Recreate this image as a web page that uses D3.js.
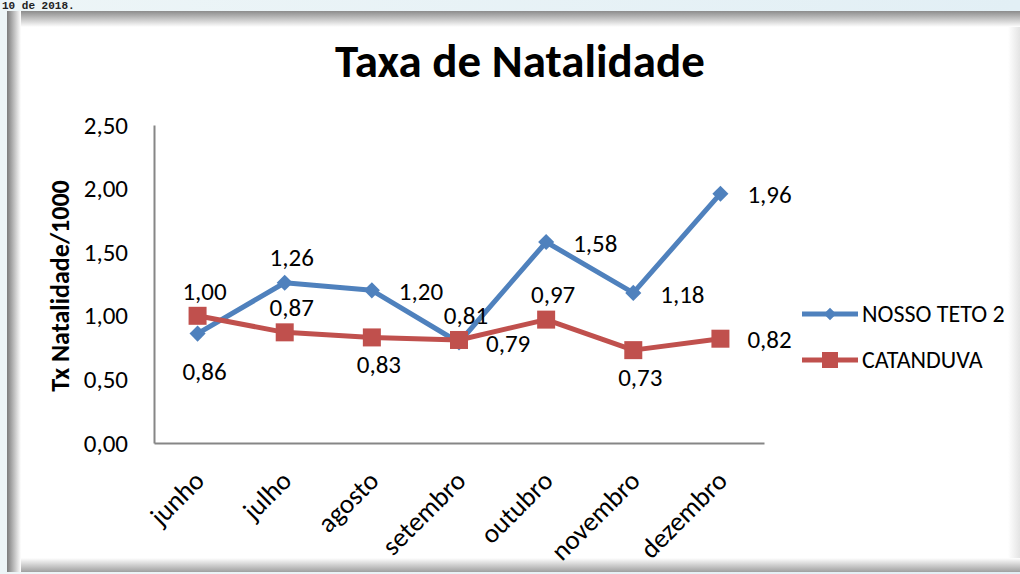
<!DOCTYPE html>
<html>
<head>
<meta charset="utf-8">
<script src="https://cdn.jsdelivr.net/npm/d3@7"></script>
<style>
  body { margin: 0; background: #e4f1f5; }
  svg { display: block; }
</style>
</head>
<body>
<div class="chart"></div>
<script>
var w = 1020;
var h = 574;

// Chart data
var months = ["junho", "julho", "agosto", "setembro", "outubro", "novembro", "dezembro"];
var nossoTeto = [0.86, 1.26, 1.20, 0.79, 1.58, 1.18, 1.96];
var catanduva = [1.00, 0.87, 0.83, 0.81, 0.97, 0.73, 0.82];
var yTicks = [0, 0.5, 1, 1.5, 2, 2.5];
// where each data label sits relative to its point: t = above, b = below, B = further below, r = right
var nossoLabelPos = ["B", "t", "r", "r", "r", "r", "r"];
var catanduvaLabelPos = ["t", "t", "b", "t", "t", "b", "r"];

var series = [
    { name: "NOSSO TETO 2", values: nossoTeto, pos: nossoLabelPos, color: "#4f81bd", marker: "diamond" },
    { name: "CATANDUVA", values: catanduva, pos: catanduvaLabelPos, color: "#c0504d", marker: "square" }
];

var font = "Carlito, Lato, 'Liberation Sans', sans-serif";
var fmt = function(v) { return d3.format(".2f")(v).replace(".", ","); };

var svg = d3.select(".chart")
    .append("svg")
    .attr("width", w)
    .attr("height", h);

// Frame with soft inner shadow
var defs = svg.append("defs");
function grad(id, x1, y1, x2, y2, c1, c2) {
    var g = defs.append("linearGradient").attr("id", id)
        .attr("x1", x1).attr("y1", y1).attr("x2", x2).attr("y2", y2);
    g.append("stop").attr("offset", "0%").attr("stop-color", c1);
    g.append("stop").attr("offset", "100%").attr("stop-color", c2);
}
grad("gTop", 0, 0, 0, 1, "#8c8c8c", "#ffffff");
grad("gLeft", 0, 0, 1, 0, "#7c7c7c", "#ffffff");
grad("gBottom", 0, 0, 0, 1, "#ffffff", "#a0a0a0");
grad("gRight", 0, 0, 1, 0, "#ffffff", "#e4e4e4");
grad("gBg", 0, 0, 1, 0, "#edf5f7", "#e2eff5");

svg.append("rect").attr("width", w).attr("height", h).attr("fill", "url(#gBg)");
svg.append("text")
    .attr("x", 2).attr("y", 9)
    .attr("font-family", "'Liberation Mono', monospace")
    .attr("font-weight", "bold")
    .attr("font-size", 11)
    .attr("fill", "#222")
    .text("10 de 2018.");

svg.append("rect").attr("x", 7).attr("y", 11).attr("width", w - 7).attr("height", 561).attr("fill", "#fff");
svg.append("rect").attr("x", 1008).attr("y", 11).attr("width", 12).attr("height", 561).attr("fill", "url(#gRight)");
svg.append("rect").attr("x", 7).attr("y", 558).attr("width", w - 7).attr("height", 14).attr("fill", "url(#gBottom)");
svg.append("rect").attr("x", 7).attr("y", 11).attr("width", w - 7).attr("height", 16).attr("fill", "url(#gTop)");
svg.append("rect").attr("x", 7).attr("y", 11).attr("width", 14).attr("height", 561).attr("fill", "url(#gLeft)");

// Scales
var x = d3.scaleBand().domain(months).range([154, 764]);
var y = d3.scaleLinear().domain([0, 2.5]).range([443, 125]);
var cx = function(i) { return x(months[i]) + x.bandwidth() / 2; };

// Title
svg.append("text")
    .attr("x", 520).attr("y", 77)
    .attr("text-anchor", "middle")
    .attr("font-family", font)
    .attr("font-weight", "bold")
    .attr("font-size", 47)
    .text("Taxa de Natalidade");

// Y axis
var yAxis = svg.append("g")
    .attr("transform", "translate(154,0)")
    .call(d3.axisLeft(y).tickValues(yTicks).tickFormat(fmt).tickSize(0).tickPadding(26));
yAxis.select(".domain").attr("stroke", "#868686").attr("stroke-width", 2);
yAxis.selectAll("text").attr("font-family", font).attr("font-size", 25).attr("fill", "#000");

svg.append("text")
    .attr("transform", "translate(69,286) rotate(-90)")
    .attr("text-anchor", "middle")
    .attr("font-family", font)
    .attr("font-weight", "bold")
    .attr("font-size", 26)
    .text("Tx Natalidade/1000");

// X axis
var xAxis = svg.append("g")
    .attr("transform", "translate(0,443)")
    .call(d3.axisBottom(x).tickSize(0).tickFormat(""));
xAxis.select(".domain").attr("stroke", "#868686").attr("stroke-width", 2);

svg.selectAll(".xlab")
    .data(months)
    .enter()
    .append("text")
    .attr("class", "xlab")
    .attr("transform", (d, i) => "translate(" + (cx(i) - 5) + ",469) rotate(-45)")
    .attr("text-anchor", "end")
    .attr("dy", "0.7em")
    .attr("font-family", font)
    .attr("font-size", 27)
    .text(d => d);

// Lines, markers and labels
var line = d3.line().x((d, i) => cx(i)).y(d => y(d));

function drawMarker(g, type, color, px, py, size) {
    if (type === "diamond") {
        g.append("path")
            .attr("d", d3.symbol().type(d3.symbolDiamond2).size(size)())
            .attr("transform", "translate(" + px + "," + py + ")")
            .attr("fill", color);
    } else {
        g.append("rect")
            .attr("x", px - size / 2).attr("y", py - size / 2)
            .attr("width", size).attr("height", size)
            .attr("fill", color);
    }
}

var labelDy = { t: -25, b: 27, B: 38, r: 1 };

series.forEach(s => {
    var g = svg.append("g");
    g.append("path")
        .datum(s.values)
        .attr("d", line)
        .attr("fill", "none")
        .attr("stroke", s.color)
        .attr("stroke-width", 5)
        .attr("stroke-linejoin", "round");
    s.values.forEach((v, i) => {
        if (s.marker === "diamond") drawMarker(g, "diamond", s.color, cx(i), y(v), 165);
        else drawMarker(g, "square", s.color, cx(i), y(v), 18);
    });
    g.selectAll(".lab")
        .data(s.values)
        .enter()
        .append("text")
        .attr("x", (d, i) => s.pos[i] === "r" ? cx(i) + 27 : cx(i) + 7)
        .attr("y", (d, i) => y(d) + labelDy[s.pos[i]])
        .attr("dy", "0.35em")
        .attr("text-anchor", (d, i) => s.pos[i] === "r" ? "start" : "middle")
        .attr("font-family", font)
        .attr("font-size", 25)
        .text(d => fmt(d));
});

// Legend
var legend = svg.selectAll(".legend")
    .data(series)
    .enter()
    .append("g")
    .attr("transform", (d, i) => "translate(802," + (314 + i * 46) + ")");
legend.append("line")
    .attr("x1", 0).attr("x2", 56)
    .attr("stroke", d => d.color)
    .attr("stroke-width", 5);
legend.each(function(d) {
    if (d.marker === "diamond") drawMarker(d3.select(this), "diamond", d.color, 28, 0, 100);
    else drawMarker(d3.select(this), "square", d.color, 28, 0, 16);
});
legend.append("text")
    .attr("x", 60).attr("dy", "0.35em")
    .attr("font-family", font)
    .attr("font-size", 24)
    .text(d => d.name);
</script>
</body>
</html>
